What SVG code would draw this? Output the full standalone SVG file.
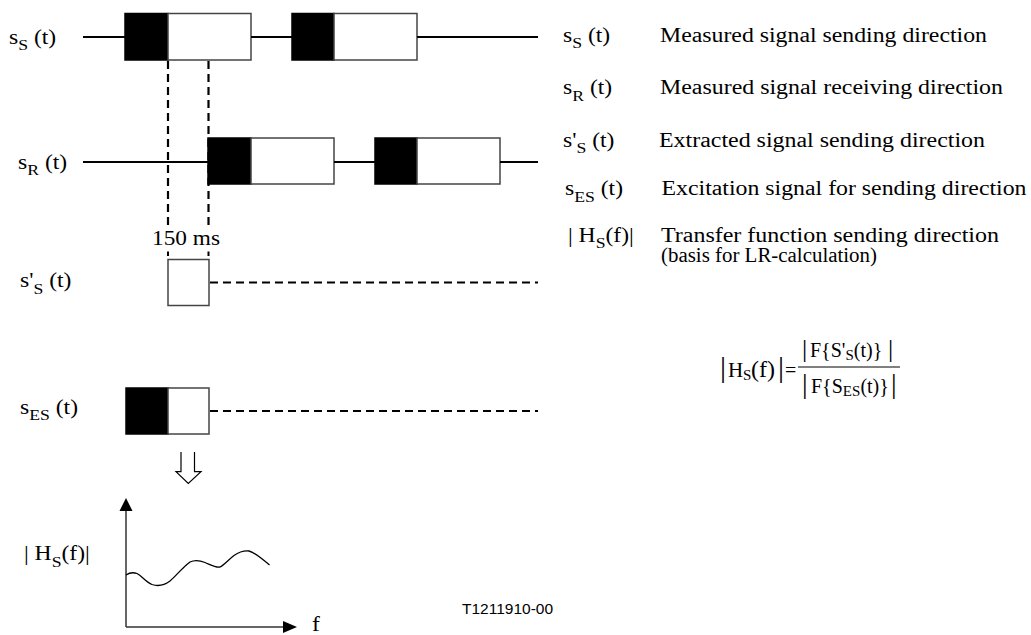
<svg xmlns="http://www.w3.org/2000/svg" width="1031" height="635" viewBox="0 0 1031 635">
<style>
.t{font-family:"Liberation Serif","Times New Roman",serif;font-size:20px;fill:#000}
.sub{font-size:15px}
.sig{stroke:#000;stroke-width:2;fill:none}
.dash{stroke:#000;stroke-width:2.2;fill:none;stroke-dasharray:8 5}
.wb{fill:#fff;stroke:#444;stroke-width:1.5}
.bb{fill:#000;stroke:#000;stroke-width:1.5}
.ax{stroke:#333;stroke-width:1.5;fill:none}
</style>
<rect width="1031" height="635" fill="#fff"/>

<g id="labels-left">
<text class="t" transform="translate(9,43.5) scale(1.18,1)">s<tspan class="sub" dy="6.5">S</tspan><tspan dy="-6.5"> (t)</tspan></text>
<text class="t" transform="translate(18,168.5) scale(1.18,1)">s<tspan class="sub" dy="6.5">R</tspan><tspan dy="-6.5"> (t)</tspan></text>
<text class="t" transform="translate(20,287) scale(1.18,1)">s'<tspan class="sub" dy="6.5">S</tspan><tspan dy="-6.5"> (t)</tspan></text>
<text class="t" transform="translate(20,413.5) scale(1.18,1)">s<tspan class="sub" dy="6.5">ES</tspan><tspan dy="-6.5"> (t)</tspan></text>
</g>

<g id="signal-sS">
<line class="sig" x1="83" y1="37" x2="125" y2="37"/>
<rect class="bb" x="125" y="13.5" width="43" height="46.5"/>
<rect class="wb" x="168" y="13.5" width="83" height="46.5"/>
<line class="sig" x1="251" y1="37" x2="292" y2="37"/>
<rect class="bb" x="292" y="13.5" width="42" height="46.5"/>
<rect class="wb" x="334" y="13.5" width="83" height="46.5"/>
<line class="sig" x1="417" y1="37" x2="538" y2="37"/>
</g>

<g id="signal-sR">
<line class="sig" x1="83" y1="162" x2="208" y2="162"/>
<rect class="bb" x="208" y="138" width="43" height="46"/>
<rect class="wb" x="251" y="138" width="83" height="46"/>
<line class="sig" x1="334" y1="162" x2="375" y2="162"/>
<rect class="bb" x="375" y="138" width="42" height="46"/>
<rect class="wb" x="417" y="138" width="83" height="46"/>
<line class="sig" x1="500" y1="162" x2="538" y2="162"/>
</g>

<g id="signal-s-prime-S">
<rect class="wb" x="168" y="259.5" width="41" height="46"/>
</g>

<g id="signal-sES">
<rect class="bb" x="126" y="388" width="42" height="46"/>
<rect class="wb" x="168" y="388" width="41" height="46"/>
</g>

<g id="connectors">
<line class="dash" x1="168" y1="61" x2="168" y2="228"/>
<line class="dash" x1="208.5" y1="61" x2="208.5" y2="228"/>
<line class="sig" x1="168" y1="251.5" x2="168" y2="256"/>
<line class="sig" x1="208.5" y1="251.5" x2="208.5" y2="256"/>
<line class="dash" x1="210" y1="282.5" x2="538" y2="282.5"/>
<line class="dash" x1="210" y1="411" x2="538" y2="411"/>
<polyline points="181,452 181,471.7 176,471.7 188.3,483.5 201,471.7 194.5,471.7 194.5,452" fill="none" stroke="#000" stroke-width="1.2"/>
</g>

<g id="label-150ms">
<text class="t" x="152" y="245" textLength="68" lengthAdjust="spacingAndGlyphs">150 ms</text>
</g>

<g id="legend">
<text class="t" transform="translate(563,41.7) scale(1.18,1)">s<tspan class="sub" dy="6.5">S</tspan><tspan dy="-6.5"> (t)</tspan></text>
<text class="t" x="660" y="41.7" textLength="327" lengthAdjust="spacingAndGlyphs">Measured signal sending direction</text>
<text class="t" transform="translate(563,94) scale(1.18,1)">s<tspan class="sub" dy="6.5">R</tspan><tspan dy="-6.5"> (t)</tspan></text>
<text class="t" x="660" y="94" textLength="343" lengthAdjust="spacingAndGlyphs">Measured signal receiving direction</text>
<text class="t" transform="translate(563,146.5) scale(1.18,1)">s'<tspan class="sub" dy="6.5">S</tspan><tspan dy="-6.5"> (t)</tspan></text>
<text class="t" x="659" y="146.5" textLength="326" lengthAdjust="spacingAndGlyphs">Extracted signal sending direction</text>
<text class="t" transform="translate(565,195) scale(1.18,1)">s<tspan class="sub" dy="6.5">ES</tspan><tspan dy="-6.5"> (t)</tspan></text>
<text class="t" x="661.5" y="195" textLength="365" lengthAdjust="spacingAndGlyphs">Excitation signal for sending direction</text>
<text class="t" transform="translate(568,241.5) scale(1.18,1)">| H<tspan class="sub" dy="6.5">S</tspan><tspan dy="-6.5">(f)|</tspan></text>
<text class="t" x="661" y="241.5" textLength="338" lengthAdjust="spacingAndGlyphs">Transfer function sending direction</text>
<text class="t" x="661" y="261.5" textLength="216" lengthAdjust="spacingAndGlyphs">(basis for LR-calculation)</text>
</g>

<g id="formula">
<text class="t" y="377"><tspan x="720" font-size="30">|</tspan><tspan x="728" font-size="21">H</tspan><tspan x="743" dy="3" font-size="15">S</tspan><tspan x="751" dy="-3" font-size="24">(f)</tspan><tspan x="778" font-size="30">|</tspan><tspan x="785">=</tspan></text>
<line x1="798" y1="367" x2="900" y2="367" stroke="#000" stroke-width="1"/>
<text class="t" y="357"><tspan x="802" font-size="26">|</tspan><tspan x="810">F{S'</tspan><tspan dy="3" font-size="15">S</tspan><tspan dy="-3">(t)}</tspan><tspan x="888" font-size="26">|</tspan></text>
<text class="t" y="393"><tspan x="802" font-size="28">|</tspan><tspan x="811">F{S</tspan><tspan dy="3" font-size="15">ES</tspan><tspan dy="-3">(t)}</tspan><tspan x="891" font-size="28">|</tspan></text>
</g>

<g id="graph">
<line class="ax" x1="126" y1="627" x2="126" y2="510"/>
<polygon points="126,498 119.5,511 132.5,511" fill="#000"/>
<line class="ax" x1="126" y1="627" x2="284" y2="627"/>
<polygon points="297,627 283,621 283,633" fill="#000"/>
<path d="M126,575 C129,573 133,572 137,573.5 C142,576 146,582 152,584.5 C158,586.5 164,585.5 170,581 C176,576 182,568 190,562 C195,559.5 199,560 205,562.5 C211,565 216,568 220,567 C224,565 228,560 234,555.5 C239,552 244,550.5 249,551 C255,552.5 260,557 269.5,565" fill="none" stroke="#000" stroke-width="1.3"/>
<text class="t" transform="translate(24,560) scale(1.18,1)">| H<tspan class="sub" dy="6.5">S</tspan><tspan dy="-6.5">(f)|</tspan></text>
<text class="t" transform="translate(312,630.5) scale(1.18,1)">f</text>
</g>

<g id="figure-id">
<text x="462" y="614" font-family="Liberation Sans, Arial, sans-serif" font-size="15.5">T1211910-00</text>
</g>
</svg>
